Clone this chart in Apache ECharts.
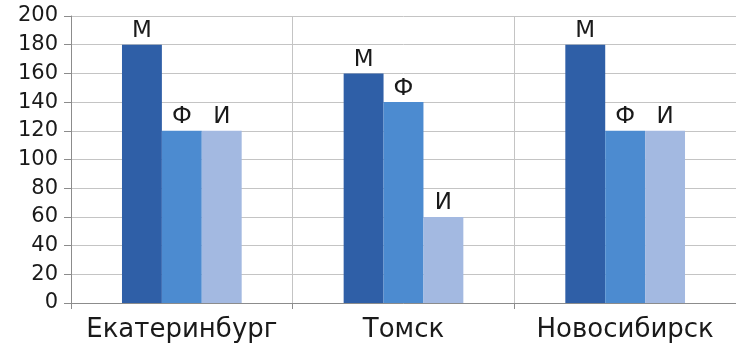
<!DOCTYPE html>
<html>
<head>
<meta charset="utf-8">
<script src="https://cdn.jsdelivr.net/npm/echarts@6/dist/echarts.min.js"></script>
<style>
  html, body { margin: 0; padding: 0; background: #fff; }
  #chart { width: 736px; height: 347px; }
</style>
</head>
<body>
<div id="chart"></div>
<script>
// Cities along the category axis
const cities = ['Екатеринбург', 'Томск', 'Новосибирск'];
// Series names (also used as the bar-top labels)
const seriesNames = ['М', 'Ф', 'И'];
// Values per series, one entry per city
const valuesM = [180, 160, 180];
const valuesF = [120, 140, 120];
const valuesI = [120, 60, 120];
const seriesColors = ['#2f5fa7', '#4c8bd0', '#a3b9e1'];

const FONT = '"DejaVu Sans", sans-serif';

function makeSeries(name, data, color) {
  return {
    name: name,
    type: 'bar',
    data: data,
    barGap: '0%',
    barCategoryGap: '46%',
    itemStyle: { color: color },
    label: {
      show: true,
      position: 'top',
      formatter: name,
      color: '#1a1a1a',
      fontFamily: FONT,
      fontSize: 23,
      distance: 2
    }
  };
}

const chart = echarts.init(document.getElementById('chart'));
chart.setOption({
  animation: false,
  backgroundColor: '#ffffff',
  grid: { left: 71, right: -2, top: 16, bottom: 44, containLabel: false },
  xAxis: {
    type: 'category',
    data: cities,
    axisLine: { lineStyle: { color: '#8c8c8c', width: 1 } },
    axisTick: { show: true, interval: 0, length: 6, lineStyle: { color: '#8c8c8c' } },
    splitLine: { show: true, interval: 0, lineStyle: { color: '#c4c4c4', width: 1 } },
    axisLabel: { interval: 0, color: '#1a1a1a', fontFamily: FONT, fontSize: 26, margin: 14 }
  },
  yAxis: {
    type: 'value',
    min: 0,
    max: 200,
    interval: 20,
    axisLine: { show: true, lineStyle: { color: '#8c8c8c', width: 1 } },
    axisTick: { show: true, length: 7, lineStyle: { color: '#8c8c8c' } },
    splitLine: { show: true, lineStyle: { color: '#c4c4c4', width: 1 } },
    axisLabel: { color: '#1a1a1a', fontFamily: FONT, fontSize: 21, margin: 13 }
  },
  series: [
    makeSeries(seriesNames[0], valuesM, seriesColors[0]),
    makeSeries(seriesNames[1], valuesF, seriesColors[1]),
    makeSeries(seriesNames[2], valuesI, seriesColors[2])
  ]
});
</script>
</body>
</html>
